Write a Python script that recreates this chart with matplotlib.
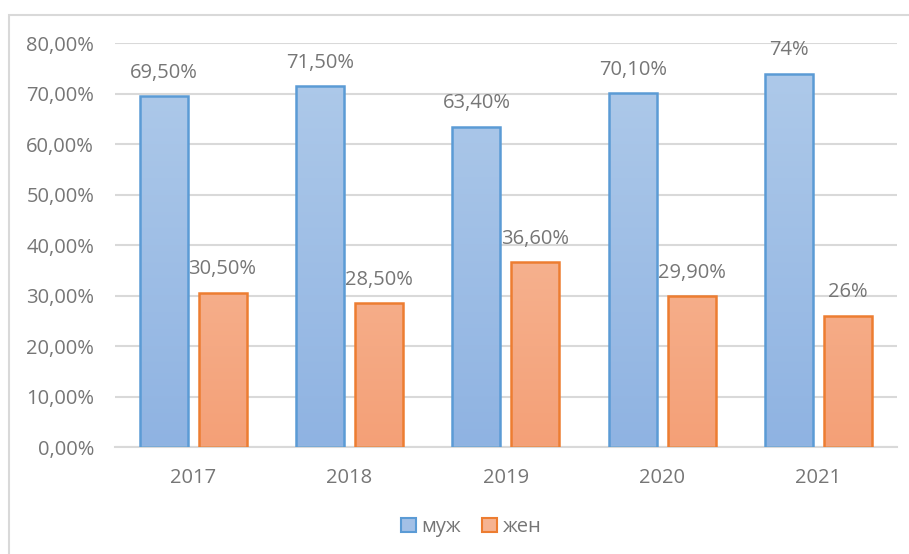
import numpy as np
import matplotlib
matplotlib.use("Agg")
import matplotlib.pyplot as plt
from matplotlib.patches import Patch, Rectangle
from matplotlib.colors import LinearSegmentedColormap

# данные
years = ["2017", "2018", "2019", "2020", "2021"]
muzh = [69.5, 71.5, 63.4, 70.1, 74.0]
zhen = [30.5, 28.5, 36.6, 29.9, 26.0]
muzh_labels = ["69,50%", "71,50%", "63,40%", "70,10%", "74%"]
zhen_labels = ["30,50%", "28,50%", "36,60%", "29,90%", "26%"]
yticks = [0, 10, 20, 30, 40, 50, 60, 70, 80]
ytick_labels = ["0,00%", "10,00%", "20,00%", "30,00%", "40,00%",
                "50,00%", "60,00%", "70,00%", "80,00%"]

plt.rcParams['font.family'] = ['Open Sans', 'DejaVu Sans']
txt_col = "#767676"
grid_col = "#d9d9d9"
fs = 14.5

fig = plt.figure(figsize=(9.09, 5.54), dpi=100)
ax = fig.add_axes([0.1265, 0.193, 0.860, 0.729])

# рамка диаграммы
fig.patches.append(Rectangle((9 / 909, -0.05), 1.0, 1 - 15 / 554 + 0.05,
                             transform=fig.transFigure, fill=False,
                             edgecolor=grid_col, linewidth=1.5))

x = np.arange(len(years))
w = 0.307
off = 0.188

blue_cmap = LinearSegmentedColormap.from_list("b", ["#8fb3e2", "#b0cbea"])
orange_cmap = LinearSegmentedColormap.from_list("o", ["#f4a077", "#f8c4a8"])

grad = np.linspace(0, 1, 256).reshape(-1, 1)


def draw_bars(xs, vals, cmap, edge):
    bars = ax.bar(xs, vals, width=w, facecolor="none", edgecolor=edge,
                  linewidth=1.8, zorder=3)
    for b in bars:
        x0 = b.get_x()
        im = ax.imshow(grad, cmap=cmap, origin="lower", aspect="auto",
                       extent=[x0, x0 + b.get_width(), 0, 80], zorder=2)
        im.set_clip_path(b)
    return bars


b1 = draw_bars(x - off, muzh, blue_cmap, "#5b9bd5")
b2 = draw_bars(x + off, zhen, orange_cmap, "#ed7d31")
ax.set_xlim(-0.5, len(years) - 0.5)
ax.set_ylim(0, 80)

for bars, labs in ((b1, muzh_labels), (b2, zhen_labels)):
    for b, lab in zip(bars, labs):
        ax.annotate(lab, (b.get_x() + b.get_width() / 2, b.get_height()),
                    xytext=(0, 17), textcoords="offset points",
                    ha="center", va="center", fontsize=fs, color=txt_col)

ax.set_yticks(yticks)
ax.set_yticklabels(ytick_labels)
ax.set_xticks(x)
ax.set_xticklabels(years)
ax.tick_params(length=0, labelsize=fs, labelcolor=txt_col)
ax.tick_params(axis="x", pad=15)
ax.tick_params(axis="y", pad=15)
ax.grid(axis="y", color=grid_col, linewidth=1.5, zorder=0)
ax.set_axisbelow(True)
for s in ["top", "right", "left"]:
    ax.spines[s].set_visible(False)
ax.spines["bottom"].set_color(grid_col)
ax.spines["bottom"].set_linewidth(1.5)

handles = [Patch(facecolor="#a3c0e6", edgecolor="#5b9bd5", linewidth=1.5, label="муж"),
           Patch(facecolor="#f6b391", edgecolor="#ed7d31", linewidth=1.5, label="жен")]
leg = fig.legend(handles=handles, loc="center", bbox_to_anchor=(471 / 909, 1 - 527 / 554),
                 ncol=2, frameon=False, fontsize=fs, handlelength=0.75,
                 handleheight=0.75, handletextpad=0.3, columnspacing=1.0)
for t in leg.get_texts():
    t.set_color(txt_col)

plt.savefig("out.png", dpi=100)
